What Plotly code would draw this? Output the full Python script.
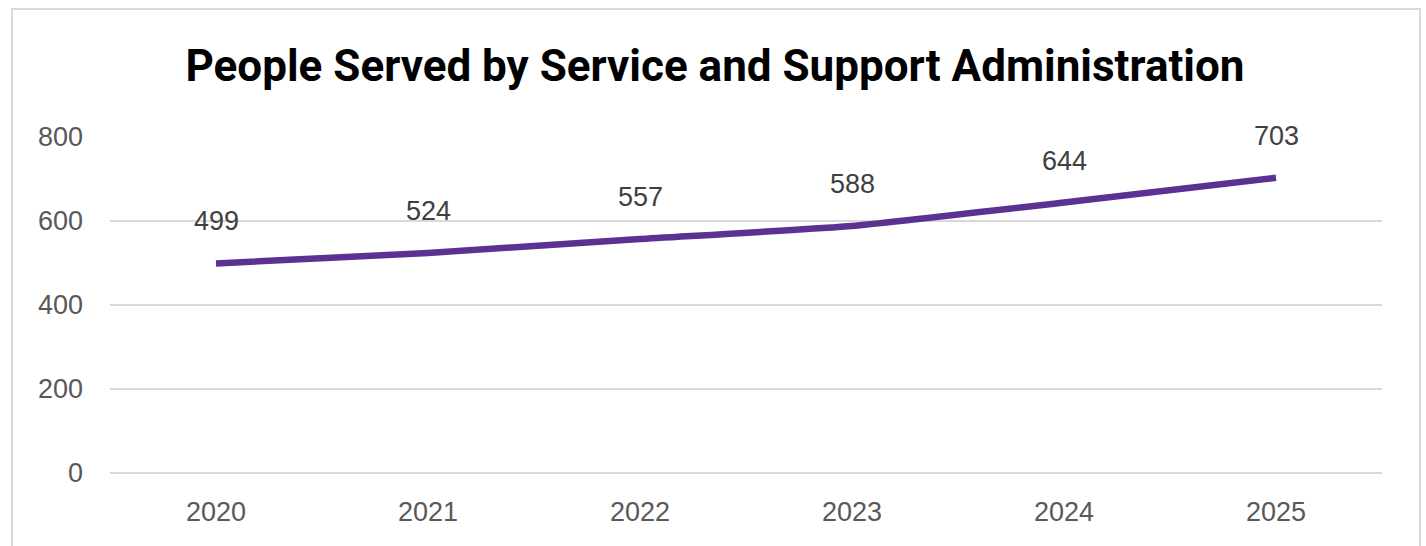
import plotly.graph_objects as go

years = ["2020", "2021", "2022", "2023", "2024", "2025"]
people_served = [499, 524, 557, 588, 644, 703]
y_ticks = [0, 200, 400, 600, 800]

LINE_COLOR = "#5B3192"
GRID_COLOR = "#D9D9D9"
LABEL_FONT = "Liberation Sans, Arial, sans-serif"

fig = go.Figure()
fig.add_trace(go.Scatter(
    x=years,
    y=people_served,
    mode="lines",
    line=dict(color=LINE_COLOR, width=6.5, shape="spline", smoothing=0.4),
    hoverinfo="x+y",
    showlegend=False,
    cliponaxis=False,
))

# value labels above each point (category axis: position by index)
for i, v in enumerate(people_served):
    fig.add_annotation(
        x=i, y=v, text=str(v), showarrow=False,
        xref="x", yref="y",
        yanchor="middle", yshift=42,
        font=dict(family=LABEL_FONT, size=27, color="#404040"),
    )

# chart frame
L, R, T, B = 110, 44, 137, 73
W, H = 1426, 546
pw, ph = W - L - R, H - T - B
fig.add_shape(
    type="rect", xref="paper", yref="paper",
    x0=(12 - L) / pw, x1=(1420 - L) / pw,
    y0=(H - B - 560) / ph, y1=(H - B - 9) / ph,
    line=dict(color=GRID_COLOR, width=2), layer="below",
)

fig.update_layout(
    width=W, height=H,
    margin=dict(l=L, r=R, t=T, b=B),
    paper_bgcolor="white", plot_bgcolor="white",
    title=dict(
        text="<b>People Served by Service and Support Administration</b>",
        x=(715 - L) / pw, xref="paper", xanchor="center",
        y=1 - 66 / H, yref="container", yanchor="middle",
        font=dict(family="Roboto, sans-serif", size=44, color="black"),
    ),
    xaxis=dict(
        type="category", range=[-0.5, 5.5],
        showgrid=False, showline=False, zeroline=False, ticks="",
        tickfont=dict(family=LABEL_FONT, size=27, color="#595959"),
        ticklabelstandoff=20,
    ),
    yaxis=dict(
        range=[0, 800], tickvals=y_ticks,
        showgrid=True, gridcolor=GRID_COLOR, gridwidth=1.5,
        zeroline=True, zerolinecolor=GRID_COLOR, zerolinewidth=1.5,
        showline=False, ticks="",
        tickfont=dict(family=LABEL_FONT, size=27, color="#595959"),
        ticklabelstandoff=26,
    ),
)

fig.write_html("out.html")
